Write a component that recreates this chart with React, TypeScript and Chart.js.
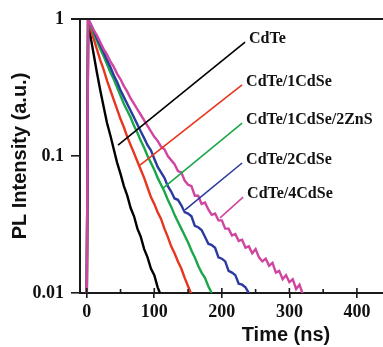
import React, { useEffect, useRef } from "react";
import { Chart, registerables } from "chart.js";

Chart.register(...registerables);

// ---------- data ----------
const seriesNames = ["CdTe", "CdTe/1CdSe", "CdTe/1CdSe/2ZnS", "CdTe/2CdSe", "CdTe/4CdSe"];
const seriesColors = ["#000000", "#e8351f", "#1ba64a", "#2b3a9e", "#d0459f"];

// shared time grid (ns)
const timeGrid = [
  0, 2, 5, 10, 15, 20, 25, 30, 35, 40, 45, 50, 55, 60, 65, 70, 75, 80, 85, 90, 95, 100,
  105, 110, 115, 120, 125, 130, 135, 140, 145, 150, 155, 160, 165, 170, 175, 180, 185,
  190, 195, 200, 205, 210, 215, 220, 225, 230, 235, 240, 245, 250, 255, 260, 265, 270,
  275, 280, 285, 290, 295, 300, 305, 310, 315, 320,
];

const cdte = [
  0.008, 1, 0.776, 0.562, 0.407, 0.302, 0.229, 0.174, 0.141, 0.112, 0.0891, 0.0741,
  0.0603, 0.0513, 0.0417, 0.0363, 0.0295, 0.0257, 0.0209, 0.0182, 0.0151, 0.0135,
  0.011, 0.00955, 0.0081,
];
const cdte1CdSe = [
  0.008, 1, 0.871, 0.724, 0.603, 0.501, 0.427, 0.355, 0.302, 0.257, 0.219, 0.186, 0.162,
  0.138, 0.12, 0.105, 0.0912, 0.0794, 0.0692, 0.0589, 0.0501, 0.0447, 0.0389, 0.0347,
  0.0295, 0.0257, 0.0219, 0.0195, 0.017, 0.0151, 0.0129, 0.0112, 0.00977,
];
const cdte1CdSe2ZnS = [
  0.008, 1, 0.912, 0.794, 0.692, 0.603, 0.537, 0.468, 0.407, 0.363, 0.316, 0.275, 0.24,
  0.214, 0.191, 0.166, 0.148, 0.129, 0.115, 0.1, 0.0891, 0.0794, 0.0692, 0.0617, 0.055,
  0.0479, 0.0427, 0.0372, 0.0331, 0.0295, 0.0263, 0.0234, 0.0204, 0.0182, 0.0158,
  0.0141, 0.0129, 0.0112, 0.01,
];
const cdte2CdSe = [
  0.008, 1, 0.933, 0.832, 0.724, 0.646, 0.575, 0.501, 0.447, 0.389, 0.347, 0.302, 0.269,
  0.24, 0.214, 0.191, 0.17, 0.151, 0.135, 0.12, 0.11, 0.0955, 0.0832, 0.0759, 0.0692,
  0.0603, 0.055, 0.049, 0.0479, 0.0437, 0.0389, 0.038, 0.0363, 0.0309, 0.0302, 0.0288,
  0.0257, 0.0229, 0.0224, 0.0214, 0.0182, 0.0178, 0.017, 0.0145, 0.0141, 0.0135,
  0.0117, 0.0115, 0.011, 0.01, 0.0089,
];
const cdte4CdSe = [
  0.008, 1, 0.933, 0.832, 0.759, 0.676, 0.603, 0.55, 0.49, 0.447, 0.398, 0.363, 0.324,
  0.295, 0.263, 0.24, 0.219, 0.2, 0.182, 0.166, 0.151, 0.138, 0.129, 0.117, 0.112, 0.1,
  0.0933, 0.0871, 0.0776, 0.0759, 0.0661, 0.0617, 0.0603, 0.0513, 0.0513, 0.0447,
  0.0457, 0.0407, 0.0372, 0.038, 0.0339, 0.0339, 0.0295, 0.0295, 0.0263, 0.0269,
  0.024, 0.0245, 0.0214, 0.0219, 0.0195, 0.0209, 0.0182, 0.017, 0.0178, 0.0158,
  0.0166, 0.0141, 0.0145, 0.0126, 0.0135, 0.012, 0.0126, 0.0107, 0.0115, 0.00977,
];
const seriesValues = [cdte, cdte1CdSe, cdte1CdSe2ZnS, cdte2CdSe, cdte4CdSe];

// leader lines from curve to label (time, intensity)
const leaderStartTime = [46.3, 78.9, 113, 145.6, 197.4];
const leaderStartIntensity = [0.12, 0.0859, 0.0583, 0.0404, 0.0353];
const leaderEndTime = [234.4, 230, 230, 230, 231.5];
const leaderEndIntensity = [0.679, 0.33, 0.174, 0.0889, 0.0501];

const xMin = -10;
const xMax = 600;
const xTickValues = [0, 100, 200, 300, 400];
const xMinorTickValues = [50, 150, 250, 350, 450];
const yTickValues = [1, 0.1, 0.01];
const yTickLabels = ["1", "0.1", "0.01"];

const AXIS_COLOR = "#1a1a1a";
const TICK_FONT = { family: "'Liberation Serif', 'Times New Roman', serif", size: 18, weight: "bold" as const };
const TITLE_FONT = { family: "'Liberation Sans', Arial, sans-serif", size: 20, weight: "bold" as const };
const LABEL_FONT = "bold 16px 'Liberation Serif', 'Times New Roman', serif";

const decorPlugin = {
  id: "decor",
  afterDatasetsDraw(chart: any) {
    const { ctx, chartArea, scales } = chart;
    const xs = scales.x;
    ctx.save();
    // top border
    ctx.strokeStyle = AXIS_COLOR;
    ctx.lineWidth = 2;
    ctx.beginPath();
    ctx.moveTo(chartArea.left - 9, chartArea.top);
    ctx.lineTo(chartArea.right, chartArea.top);
    ctx.stroke();
    // inner ticks on x axis
    ctx.lineWidth = 1.6;
    ctx.beginPath();
    for (const v of xTickValues) {
      const px = xs.getPixelForValue(v);
      ctx.moveTo(px, chartArea.bottom);
      ctx.lineTo(px, chartArea.bottom - 5);
    }
    for (const v of xMinorTickValues) {
      const px = xs.getPixelForValue(v);
      ctx.moveTo(px, chartArea.bottom);
      ctx.lineTo(px, chartArea.bottom - 4);
    }
    ctx.stroke();
    // series labels next to leader ends
    ctx.font = LABEL_FONT;
    ctx.fillStyle = "#111";
    ctx.textAlign = "left";
    ctx.textBaseline = "middle";
    seriesNames.forEach((name, i) => {
      const px = xs.getPixelForValue(leaderEndTime[i]);
      const py = scales.y.getPixelForValue(leaderEndIntensity[i]);
      ctx.fillText(name, px + 4, py - 3);
    });
    ctx.restore();
  },
};

export default function App() {
  const canvasRef = useRef<HTMLCanvasElement | null>(null);

  useEffect(() => {
    if (!canvasRef.current) return;
    const n = seriesValues.length;
    const curveSets = seriesValues.map((vals, i) => ({
      label: seriesNames[i],
      data: vals.map((v, k) => ({ x: timeGrid[k], y: v })),
      borderColor: seriesColors[i],
      borderWidth: 2.4,
      pointRadius: 0,
      tension: 0,
      fill: false,
      order: n - i,
    }));
    const leaderSets = seriesNames.map((name, i) => ({
      label: name + " leader",
      data: [
        { x: leaderStartTime[i], y: leaderStartIntensity[i] },
        { x: leaderEndTime[i], y: leaderEndIntensity[i] },
      ],
      borderColor: seriesColors[i],
      borderWidth: 1.6,
      pointRadius: 0,
      tension: 0,
      fill: false,
      order: -1,
    }));

    const chart = new Chart(canvasRef.current, {
      type: "line",
      data: { datasets: [...curveSets, ...leaderSets] as any },
      plugins: [decorPlugin],
      options: {
        animation: false,
        responsive: false,
        devicePixelRatio: 1,
        layout: { padding: { top: 19, right: 3, left: 0, bottom: 0 } },
        plugins: { legend: { display: false }, tooltip: { enabled: false } },
        scales: {
          x: {
            type: "linear",
            min: xMin,
            max: xMax,
            afterBuildTicks: (scale: any) => {
              scale.ticks = xTickValues.map((v) => ({ value: v }));
            },
            afterFit: (scale: any) => {
              scale.height = 54;
            },
            ticks: {
              color: "#111",
              font: TICK_FONT,
              padding: 4,
              maxRotation: 0,
              autoSkip: false,
              callback: (v: any) => String(v),
            },
            grid: {
              display: true,
              drawOnChartArea: false,
              drawTicks: true,
              tickLength: 5,
              color: AXIS_COLOR,
              lineWidth: 1.6,
            },
            border: { display: true, color: AXIS_COLOR, width: 2 },
            title: {
              display: true,
              text: "Time (ns)",
              color: "#111",
              font: TITLE_FONT,
              padding: { top: 0, bottom: 0 },
            },
          },
          y: {
            type: "logarithmic",
            min: 0.01,
            max: 1,
            afterBuildTicks: (scale: any) => {
              scale.ticks = yTickValues.map((v) => ({ value: v }));
            },
            afterFit: (scale: any) => {
              scale.width = 80;
            },
            ticks: {
              color: "#111",
              font: TICK_FONT,
              padding: 7,
              autoSkip: false,
              callback: (v: any) => {
                const idx = yTickValues.indexOf(Number(v));
                return idx >= 0 ? yTickLabels[idx] : "";
              },
            },
            grid: {
              display: true,
              drawOnChartArea: false,
              drawTicks: true,
              tickLength: 9,
              color: AXIS_COLOR,
              lineWidth: 1.6,
            },
            border: { display: true, color: AXIS_COLOR, width: 2 },
            title: {
              display: true,
              text: "PL Intensity (a.u.)",
              color: "#111",
              font: TITLE_FONT,
              padding: { top: 8, bottom: 0 },
            },
          },
        },
      },
    });
    return () => chart.destroy();
  }, []);

  return (
    <div
      style={{
        position: "fixed",
        left: 0,
        top: 0,
        width: 383,
        height: 347,
        overflow: "hidden",
        background: "#ffffff",
      }}
    >
      <canvas ref={canvasRef} width={495} height={347} style={{ display: "block" }} />
    </div>
  );
}
